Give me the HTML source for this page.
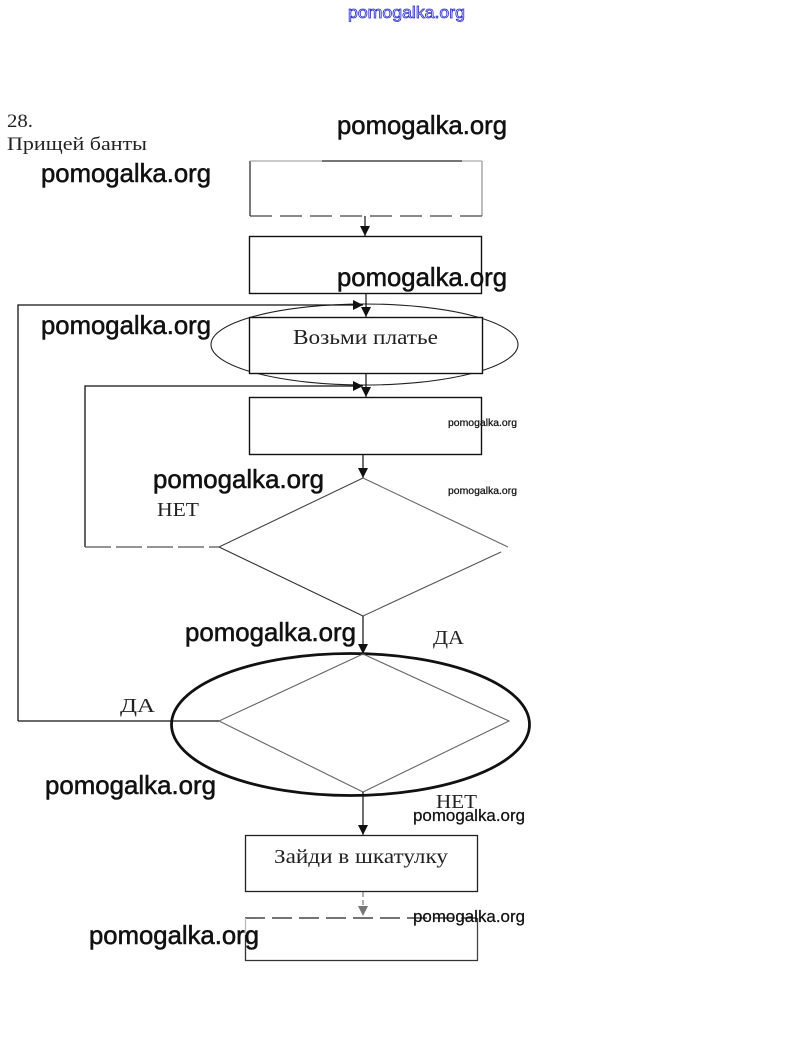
<!DOCTYPE html>
<html>
<head>
<meta charset="utf-8">
<style>
html,body{margin:0;padding:0;background:#fff;}
svg{display:block;}
.wm{font-family:"Liberation Sans",sans-serif;fill:#111;stroke:#111;stroke-width:0.55;}
.wms{font-family:"Liberation Sans",sans-serif;fill:#111;stroke:#111;stroke-width:0.25;}
.sr{font-family:"Liberation Serif","Noto Serif CJK SC",serif;fill:#222;}
</style>
</head>
<body>
<svg width="811" height="1064" viewBox="0 0 811 1064" xmlns="http://www.w3.org/2000/svg">
<rect width="811" height="1064" fill="#fff"/>
<defs>
<marker id="ah" viewBox="0 0 10 10" refX="10" refY="5" markerWidth="10" markerHeight="10" markerUnits="userSpaceOnUse" orient="auto">
<path d="M0,0 L10,5 L0,10 z" fill="#111"/>
</marker>
<marker id="ahg" viewBox="0 0 10 10" refX="10" refY="5" markerWidth="10" markerHeight="10" markerUnits="userSpaceOnUse" orient="auto">
<path d="M0,0 L10,5 L0,10 z" fill="#777"/>
</marker>
</defs>

<!-- top blue watermark -->
<text x="348" y="18" font-family="Liberation Sans,sans-serif" font-size="17" fill="#f0f0ff" stroke="#2b2bcc" stroke-width="0.8" textLength="117" lengthAdjust="spacingAndGlyphs">pomogalka.org</text>

<!-- heading -->
<text class="sr" x="7" y="127" font-size="19" textLength="26" lengthAdjust="spacingAndGlyphs" fill="#333">28.</text>
<text class="sr" x="7" y="150" font-size="19" textLength="140" lengthAdjust="spacingAndGlyphs" fill="#666">Прищей банты</text>

<!-- Box1 (faded / dashed) -->
<g fill="none" stroke-width="1.3">
<line x1="250" y1="161" x2="250" y2="216" stroke="#333"/>
<line x1="482" y1="161" x2="482" y2="216" stroke="#999"/>
<line x1="250" y1="161" x2="322" y2="161" stroke="#aaa"/>
<line x1="322" y1="161" x2="462" y2="161" stroke="#222"/>
<line x1="462" y1="161" x2="482" y2="161" stroke="#aaa"/>
<line x1="250" y1="216" x2="482" y2="216" stroke="#444" stroke-dasharray="22,8"/>
</g>
<line x1="365" y1="216" x2="365" y2="236" stroke="#111" stroke-width="1.2" marker-end="url(#ah)"/>

<!-- Box2 -->
<rect x="249.5" y="236.5" width="232" height="57" fill="none" stroke="#111" stroke-width="1.4"/>

<!-- Ellipse1 -->
<ellipse cx="364.5" cy="344.5" rx="153.5" ry="40.5" fill="none" stroke="#222" stroke-width="1.1"/>
<!-- Box3 -->
<rect x="249.5" y="317.5" width="233" height="56" fill="#fff" stroke="#111" stroke-width="1.4"/>
<text class="sr" x="293" y="344" font-size="21" textLength="145" lengthAdjust="spacingAndGlyphs">Возьми платье</text>

<!-- arrows into box3 -->
<line x1="366" y1="294" x2="366" y2="317" stroke="#111" stroke-width="1.2" marker-end="url(#ah)"/>
<polyline points="18,721 18,305 363,305" fill="none" stroke="#111" stroke-width="1.3" marker-end="url(#ah)"/>

<!-- second loop -->
<polyline points="85,547 85,386 363,386" fill="none" stroke="#111" stroke-width="1.3" marker-end="url(#ah)"/>
<line x1="85" y1="547" x2="219" y2="547" stroke="#555" stroke-width="1.2" stroke-dasharray="26,5"/>
<line x1="366" y1="373" x2="366" y2="397" stroke="#111" stroke-width="1.2" marker-end="url(#ah)"/>

<!-- Box4 -->
<rect x="249.5" y="397.5" width="232" height="57" fill="none" stroke="#111" stroke-width="1.4"/>
<line x1="363" y1="455" x2="363" y2="478" stroke="#111" stroke-width="1.2" marker-end="url(#ah)"/>

<!-- Diamond1 -->
<g fill="none" stroke-width="1.1">
<line x1="363" y1="478" x2="219" y2="547" stroke="#444"/>
<line x1="363" y1="478" x2="508" y2="547" stroke="#666"/>
<line x1="219" y1="547" x2="363" y2="616" stroke="#333"/>
<line x1="501" y1="552" x2="363" y2="616" stroke="#555"/>
</g>
<text class="sr" x="157" y="516" font-size="20" textLength="42" lengthAdjust="spacingAndGlyphs">НЕТ</text>

<line x1="363" y1="616" x2="363" y2="654" stroke="#111" stroke-width="1.2" marker-end="url(#ah)"/>
<text class="sr" x="433" y="644" font-size="20" textLength="31" lengthAdjust="spacingAndGlyphs">ДА</text>

<!-- Ellipse2 + Diamond2 -->
<ellipse cx="350.5" cy="724.5" rx="179" ry="71" fill="none" stroke="#111" stroke-width="2.8"/>
<g fill="none" stroke="#666" stroke-width="1.1">
<polygon points="363,654 509,721 363,792 219,721"/>
</g>
<line x1="18" y1="721" x2="219" y2="721" stroke="#111" stroke-width="1.3"/>
<text class="sr" x="120" y="712" font-size="20" textLength="35" lengthAdjust="spacingAndGlyphs">ДА</text>
<text class="sr" x="436" y="808" font-size="20" textLength="41" lengthAdjust="spacingAndGlyphs">НЕТ</text>

<line x1="363" y1="792" x2="363" y2="835" stroke="#111" stroke-width="1.2" marker-end="url(#ah)"/>

<!-- Box5 -->
<rect x="245.5" y="835.5" width="232" height="56" fill="none" stroke="#222" stroke-width="1.3"/>
<text class="sr" x="274" y="863" font-size="20" textLength="174" lengthAdjust="spacingAndGlyphs" fill="#333">Зайди в шкатулку</text>

<line x1="363" y1="892" x2="363" y2="916" stroke="#777" stroke-width="1.2" stroke-dasharray="5,3" marker-end="url(#ahg)"/>

<!-- Box6 -->
<g fill="none" stroke-width="1.3">
<line x1="245" y1="918" x2="477" y2="918" stroke="#222" stroke-dasharray="20,7"/>
<line x1="245.5" y1="918" x2="245.5" y2="935" stroke="#bbb"/>
<line x1="245.5" y1="935" x2="245.5" y2="960.5" stroke="#333"/>
<line x1="477.5" y1="918" x2="477.5" y2="960.5" stroke="#444"/>
<line x1="245" y1="960.5" x2="478" y2="960.5" stroke="#333"/>
</g>

<!-- watermarks large -->
<text class="wm" x="337" y="134" font-size="26" textLength="170" lengthAdjust="spacingAndGlyphs">pomogalka.org</text>
<text class="wm" x="41" y="182" font-size="26" textLength="170" lengthAdjust="spacingAndGlyphs">pomogalka.org</text>
<text class="wm" x="337" y="286" font-size="26" textLength="170" lengthAdjust="spacingAndGlyphs">pomogalka.org</text>
<text class="wm" x="41" y="334" font-size="26" textLength="170" lengthAdjust="spacingAndGlyphs">pomogalka.org</text>
<text class="wm" x="153" y="488" font-size="26" textLength="171" lengthAdjust="spacingAndGlyphs">pomogalka.org</text>
<text class="wm" x="185" y="641" font-size="26" textLength="171" lengthAdjust="spacingAndGlyphs">pomogalka.org</text>
<text class="wm" x="45" y="794" font-size="26" textLength="171" lengthAdjust="spacingAndGlyphs">pomogalka.org</text>
<text class="wm" x="89" y="944" font-size="26" textLength="170" lengthAdjust="spacingAndGlyphs">pomogalka.org</text>
<!-- small -->
<text class="wms" x="448" y="426" font-size="10.5" textLength="69" lengthAdjust="spacingAndGlyphs">pomogalka.org</text>
<text class="wms" x="448" y="494" font-size="10.5" textLength="69" lengthAdjust="spacingAndGlyphs">pomogalka.org</text>
<!-- medium -->
<text class="wms" x="413" y="821" font-size="17" textLength="112" lengthAdjust="spacingAndGlyphs">pomogalka.org</text>
<text class="wms" x="413" y="922" font-size="17" textLength="112" lengthAdjust="spacingAndGlyphs">pomogalka.org</text>
</svg>
</body>
</html>
